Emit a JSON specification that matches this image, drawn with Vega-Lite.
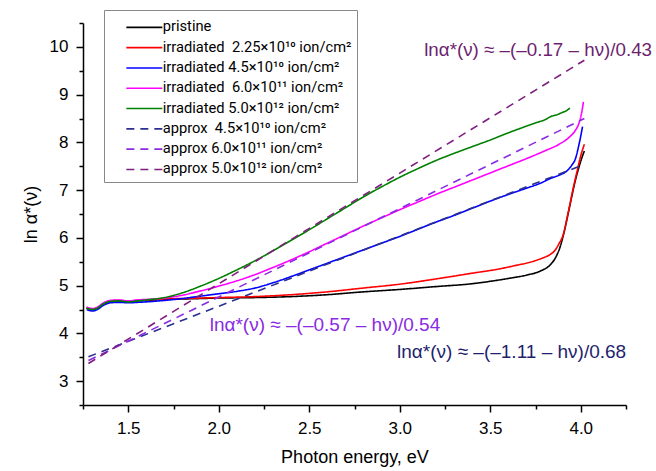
{
  "$schema": "https://vega.github.io/schema/vega-lite/v6.json",
  "width": 543,
  "height": 382,
  "autosize": {"type": "none"},
  "padding": {"left": 83, "top": 23, "right": 30, "bottom": 66},
  "config": {"view": {"stroke": null}, "font": "Liberation Sans", "text": {"font": "Liberation Sans"}},
  "resolve": {"axis": {"y": "independent"}},
  "datasets": {
    "curves": [
      {"s": "pristine", "x": 1.27, "y": 4.53}, {"s": "pristine", "x": 1.30, "y": 4.50}, {"s": "pristine", "x": 1.33, "y": 4.53}, {"s": "pristine", "x": 1.36, "y": 4.61}, {"s": "pristine", "x": 1.40, "y": 4.67}, {"s": "pristine", "x": 1.45, "y": 4.68}, {"s": "pristine", "x": 1.50, "y": 4.66}, {"s": "pristine", "x": 1.55, "y": 4.68}, {"s": "pristine", "x": 1.60, "y": 4.69}, {"s": "pristine", "x": 1.70, "y": 4.71}, {"s": "pristine", "x": 1.80, "y": 4.72}, {"s": "pristine", "x": 1.90, "y": 4.73}, {"s": "pristine", "x": 2.00, "y": 4.74}, {"s": "pristine", "x": 2.20, "y": 4.75}, {"s": "pristine", "x": 2.40, "y": 4.77}, {"s": "pristine", "x": 2.60, "y": 4.81}, {"s": "pristine", "x": 2.80, "y": 4.87}, {"s": "pristine", "x": 3.00, "y": 4.92}, {"s": "pristine", "x": 3.20, "y": 4.98}, {"s": "pristine", "x": 3.40, "y": 5.04}, {"s": "pristine", "x": 3.50, "y": 5.09}, {"s": "pristine", "x": 3.60, "y": 5.15}, {"s": "pristine", "x": 3.70, "y": 5.22}, {"s": "pristine", "x": 3.78, "y": 5.31}, {"s": "pristine", "x": 3.83, "y": 5.43}, {"s": "pristine", "x": 3.86, "y": 5.58}, {"s": "pristine", "x": 3.885, "y": 5.80}, {"s": "pristine", "x": 3.91, "y": 6.15}, {"s": "pristine", "x": 3.93, "y": 6.50}, {"s": "pristine", "x": 3.95, "y": 6.86}, {"s": "pristine", "x": 3.97, "y": 7.20}, {"s": "pristine", "x": 3.99, "y": 7.48}, {"s": "pristine", "x": 4.01, "y": 7.72}, {"s": "pristine", "x": 4.02, "y": 7.82},

      {"s": "irradiated\u00a0 2.25×10¹⁰ ion/cm²", "x": 1.27, "y": 4.54}, {"s": "irradiated\u00a0 2.25×10¹⁰ ion/cm²", "x": 1.30, "y": 4.51}, {"s": "irradiated\u00a0 2.25×10¹⁰ ion/cm²", "x": 1.33, "y": 4.54}, {"s": "irradiated\u00a0 2.25×10¹⁰ ion/cm²", "x": 1.36, "y": 4.62}, {"s": "irradiated\u00a0 2.25×10¹⁰ ion/cm²", "x": 1.40, "y": 4.68}, {"s": "irradiated\u00a0 2.25×10¹⁰ ion/cm²", "x": 1.45, "y": 4.69}, {"s": "irradiated\u00a0 2.25×10¹⁰ ion/cm²", "x": 1.50, "y": 4.67}, {"s": "irradiated\u00a0 2.25×10¹⁰ ion/cm²", "x": 1.55, "y": 4.69}, {"s": "irradiated\u00a0 2.25×10¹⁰ ion/cm²", "x": 1.60, "y": 4.70}, {"s": "irradiated\u00a0 2.25×10¹⁰ ion/cm²", "x": 1.70, "y": 4.72}, {"s": "irradiated\u00a0 2.25×10¹⁰ ion/cm²", "x": 1.80, "y": 4.73}, {"s": "irradiated\u00a0 2.25×10¹⁰ ion/cm²", "x": 1.90, "y": 4.74}, {"s": "irradiated\u00a0 2.25×10¹⁰ ion/cm²", "x": 2.00, "y": 4.75}, {"s": "irradiated\u00a0 2.25×10¹⁰ ion/cm²", "x": 2.20, "y": 4.77}, {"s": "irradiated\u00a0 2.25×10¹⁰ ion/cm²", "x": 2.40, "y": 4.81}, {"s": "irradiated\u00a0 2.25×10¹⁰ ion/cm²", "x": 2.60, "y": 4.87}, {"s": "irradiated\u00a0 2.25×10¹⁰ ion/cm²", "x": 2.80, "y": 4.95}, {"s": "irradiated\u00a0 2.25×10¹⁰ ion/cm²", "x": 3.00, "y": 5.03}, {"s": "irradiated\u00a0 2.25×10¹⁰ ion/cm²", "x": 3.20, "y": 5.14}, {"s": "irradiated\u00a0 2.25×10¹⁰ ion/cm²", "x": 3.40, "y": 5.26}, {"s": "irradiated\u00a0 2.25×10¹⁰ ion/cm²", "x": 3.55, "y": 5.35}, {"s": "irradiated\u00a0 2.25×10¹⁰ ion/cm²", "x": 3.65, "y": 5.43}, {"s": "irradiated\u00a0 2.25×10¹⁰ ion/cm²", "x": 3.72, "y": 5.49}, {"s": "irradiated\u00a0 2.25×10¹⁰ ion/cm²", "x": 3.79, "y": 5.58}, {"s": "irradiated\u00a0 2.25×10¹⁰ ion/cm²", "x": 3.83, "y": 5.65}, {"s": "irradiated\u00a0 2.25×10¹⁰ ion/cm²", "x": 3.86, "y": 5.75}, {"s": "irradiated\u00a0 2.25×10¹⁰ ion/cm²", "x": 3.88, "y": 5.88}, {"s": "irradiated\u00a0 2.25×10¹⁰ ion/cm²", "x": 3.90, "y": 6.03}, {"s": "irradiated\u00a0 2.25×10¹⁰ ion/cm²", "x": 3.93, "y": 6.52}, {"s": "irradiated\u00a0 2.25×10¹⁰ ion/cm²", "x": 3.96, "y": 7.07}, {"s": "irradiated\u00a0 2.25×10¹⁰ ion/cm²", "x": 3.98, "y": 7.40}, {"s": "irradiated\u00a0 2.25×10¹⁰ ion/cm²", "x": 4.00, "y": 7.72}, {"s": "irradiated\u00a0 2.25×10¹⁰ ion/cm²", "x": 4.02, "y": 7.96},

      {"s": "irradiated 4.5×10¹⁰ ion/cm²", "x": 1.27, "y": 4.50}, {"s": "irradiated 4.5×10¹⁰ ion/cm²", "x": 1.30, "y": 4.47}, {"s": "irradiated 4.5×10¹⁰ ion/cm²", "x": 1.33, "y": 4.50}, {"s": "irradiated 4.5×10¹⁰ ion/cm²", "x": 1.36, "y": 4.58}, {"s": "irradiated 4.5×10¹⁰ ion/cm²", "x": 1.40, "y": 4.64}, {"s": "irradiated 4.5×10¹⁰ ion/cm²", "x": 1.45, "y": 4.65}, {"s": "irradiated 4.5×10¹⁰ ion/cm²", "x": 1.50, "y": 4.64}, {"s": "irradiated 4.5×10¹⁰ ion/cm²", "x": 1.55, "y": 4.65}, {"s": "irradiated 4.5×10¹⁰ ion/cm²", "x": 1.60, "y": 4.66}, {"s": "irradiated 4.5×10¹⁰ ion/cm²", "x": 1.70, "y": 4.69}, {"s": "irradiated 4.5×10¹⁰ ion/cm²", "x": 1.80, "y": 4.73}, {"s": "irradiated 4.5×10¹⁰ ion/cm²", "x": 1.90, "y": 4.78}, {"s": "irradiated 4.5×10¹⁰ ion/cm²", "x": 2.00, "y": 4.83}, {"s": "irradiated 4.5×10¹⁰ ion/cm²", "x": 2.10, "y": 4.88}, {"s": "irradiated 4.5×10¹⁰ ion/cm²", "x": 2.20, "y": 4.95}, {"s": "irradiated 4.5×10¹⁰ ion/cm²", "x": 2.30, "y": 5.06}, {"s": "irradiated 4.5×10¹⁰ ion/cm²", "x": 2.40, "y": 5.19}, {"s": "irradiated 4.5×10¹⁰ ion/cm²", "x": 2.50, "y": 5.33}, {"s": "irradiated 4.5×10¹⁰ ion/cm²", "x": 2.60, "y": 5.47}, {"s": "irradiated 4.5×10¹⁰ ion/cm²", "x": 2.70, "y": 5.61}, {"s": "irradiated 4.5×10¹⁰ ion/cm²", "x": 2.80, "y": 5.75}, {"s": "irradiated 4.5×10¹⁰ ion/cm²", "x": 2.90, "y": 5.89}, {"s": "irradiated 4.5×10¹⁰ ion/cm²", "x": 3.00, "y": 6.03}, {"s": "irradiated 4.5×10¹⁰ ion/cm²", "x": 3.10, "y": 6.18}, {"s": "irradiated 4.5×10¹⁰ ion/cm²", "x": 3.20, "y": 6.33}, {"s": "irradiated 4.5×10¹⁰ ion/cm²", "x": 3.30, "y": 6.47}, {"s": "irradiated 4.5×10¹⁰ ion/cm²", "x": 3.40, "y": 6.62}, {"s": "irradiated 4.5×10¹⁰ ion/cm²", "x": 3.50, "y": 6.77}, {"s": "irradiated 4.5×10¹⁰ ion/cm²", "x": 3.60, "y": 6.91}, {"s": "irradiated 4.5×10¹⁰ ion/cm²", "x": 3.70, "y": 7.04}, {"s": "irradiated 4.5×10¹⁰ ion/cm²", "x": 3.78, "y": 7.15}, {"s": "irradiated 4.5×10¹⁰ ion/cm²", "x": 3.83, "y": 7.24}, {"s": "irradiated 4.5×10¹⁰ ion/cm²", "x": 3.885, "y": 7.32}, {"s": "irradiated 4.5×10¹⁰ ion/cm²", "x": 3.92, "y": 7.39}, {"s": "irradiated 4.5×10¹⁰ ion/cm²", "x": 3.95, "y": 7.52}, {"s": "irradiated 4.5×10¹⁰ ion/cm²", "x": 3.97, "y": 7.65}, {"s": "irradiated 4.5×10¹⁰ ion/cm²", "x": 3.99, "y": 7.95}, {"s": "irradiated 4.5×10¹⁰ ion/cm²", "x": 4.01, "y": 8.33},

      {"s": "irradiated\u00a0 6.0×10¹¹ ion/cm²", "x": 1.27, "y": 4.55}, {"s": "irradiated\u00a0 6.0×10¹¹ ion/cm²", "x": 1.30, "y": 4.52}, {"s": "irradiated\u00a0 6.0×10¹¹ ion/cm²", "x": 1.33, "y": 4.55}, {"s": "irradiated\u00a0 6.0×10¹¹ ion/cm²", "x": 1.36, "y": 4.63}, {"s": "irradiated\u00a0 6.0×10¹¹ ion/cm²", "x": 1.40, "y": 4.69}, {"s": "irradiated\u00a0 6.0×10¹¹ ion/cm²", "x": 1.45, "y": 4.70}, {"s": "irradiated\u00a0 6.0×10¹¹ ion/cm²", "x": 1.50, "y": 4.68}, {"s": "irradiated\u00a0 6.0×10¹¹ ion/cm²", "x": 1.55, "y": 4.70}, {"s": "irradiated\u00a0 6.0×10¹¹ ion/cm²", "x": 1.60, "y": 4.71}, {"s": "irradiated\u00a0 6.0×10¹¹ ion/cm²", "x": 1.70, "y": 4.74}, {"s": "irradiated\u00a0 6.0×10¹¹ ion/cm²", "x": 1.80, "y": 4.80}, {"s": "irradiated\u00a0 6.0×10¹¹ ion/cm²", "x": 1.90, "y": 4.89}, {"s": "irradiated\u00a0 6.0×10¹¹ ion/cm²", "x": 2.00, "y": 4.99}, {"s": "irradiated\u00a0 6.0×10¹¹ ion/cm²", "x": 2.10, "y": 5.10}, {"s": "irradiated\u00a0 6.0×10¹¹ ion/cm²", "x": 2.20, "y": 5.23}, {"s": "irradiated\u00a0 6.0×10¹¹ ion/cm²", "x": 2.30, "y": 5.38}, {"s": "irradiated\u00a0 6.0×10¹¹ ion/cm²", "x": 2.40, "y": 5.54}, {"s": "irradiated\u00a0 6.0×10¹¹ ion/cm²", "x": 2.50, "y": 5.71}, {"s": "irradiated\u00a0 6.0×10¹¹ ion/cm²", "x": 2.60, "y": 5.89}, {"s": "irradiated\u00a0 6.0×10¹¹ ion/cm²", "x": 2.70, "y": 6.07}, {"s": "irradiated\u00a0 6.0×10¹¹ ion/cm²", "x": 2.80, "y": 6.25}, {"s": "irradiated\u00a0 6.0×10¹¹ ion/cm²", "x": 2.90, "y": 6.42}, {"s": "irradiated\u00a0 6.0×10¹¹ ion/cm²", "x": 3.00, "y": 6.59}, {"s": "irradiated\u00a0 6.0×10¹¹ ion/cm²", "x": 3.10, "y": 6.75}, {"s": "irradiated\u00a0 6.0×10¹¹ ion/cm²", "x": 3.20, "y": 6.91}, {"s": "irradiated\u00a0 6.0×10¹¹ ion/cm²", "x": 3.30, "y": 7.06}, {"s": "irradiated\u00a0 6.0×10¹¹ ion/cm²", "x": 3.40, "y": 7.21}, {"s": "irradiated\u00a0 6.0×10¹¹ ion/cm²", "x": 3.50, "y": 7.36}, {"s": "irradiated\u00a0 6.0×10¹¹ ion/cm²", "x": 3.60, "y": 7.51}, {"s": "irradiated\u00a0 6.0×10¹¹ ion/cm²", "x": 3.70, "y": 7.66}, {"s": "irradiated\u00a0 6.0×10¹¹ ion/cm²", "x": 3.80, "y": 7.82}, {"s": "irradiated\u00a0 6.0×10¹¹ ion/cm²", "x": 3.88, "y": 7.96}, {"s": "irradiated\u00a0 6.0×10¹¹ ion/cm²", "x": 3.94, "y": 8.12}, {"s": "irradiated\u00a0 6.0×10¹¹ ion/cm²", "x": 3.97, "y": 8.25}, {"s": "irradiated\u00a0 6.0×10¹¹ ion/cm²", "x": 3.99, "y": 8.40}, {"s": "irradiated\u00a0 6.0×10¹¹ ion/cm²", "x": 4.005, "y": 8.62}, {"s": "irradiated\u00a0 6.0×10¹¹ ion/cm²", "x": 4.015, "y": 8.85},

      {"s": "irradiated 5.0×10¹² ion/cm²", "x": 1.27, "y": 4.53}, {"s": "irradiated 5.0×10¹² ion/cm²", "x": 1.30, "y": 4.50}, {"s": "irradiated 5.0×10¹² ion/cm²", "x": 1.33, "y": 4.53}, {"s": "irradiated 5.0×10¹² ion/cm²", "x": 1.36, "y": 4.61}, {"s": "irradiated 5.0×10¹² ion/cm²", "x": 1.40, "y": 4.67}, {"s": "irradiated 5.0×10¹² ion/cm²", "x": 1.45, "y": 4.68}, {"s": "irradiated 5.0×10¹² ion/cm²", "x": 1.50, "y": 4.66}, {"s": "irradiated 5.0×10¹² ion/cm²", "x": 1.55, "y": 4.68}, {"s": "irradiated 5.0×10¹² ion/cm²", "x": 1.60, "y": 4.70}, {"s": "irradiated 5.0×10¹² ion/cm²", "x": 1.70, "y": 4.75}, {"s": "irradiated 5.0×10¹² ion/cm²", "x": 1.80, "y": 4.85}, {"s": "irradiated 5.0×10¹² ion/cm²", "x": 1.90, "y": 4.99}, {"s": "irradiated 5.0×10¹² ion/cm²", "x": 2.00, "y": 5.15}, {"s": "irradiated 5.0×10¹² ion/cm²", "x": 2.10, "y": 5.33}, {"s": "irradiated 5.0×10¹² ion/cm²", "x": 2.20, "y": 5.52}, {"s": "irradiated 5.0×10¹² ion/cm²", "x": 2.30, "y": 5.73}, {"s": "irradiated 5.0×10¹² ion/cm²", "x": 2.40, "y": 5.95}, {"s": "irradiated 5.0×10¹² ion/cm²", "x": 2.50, "y": 6.17}, {"s": "irradiated 5.0×10¹² ion/cm²", "x": 2.60, "y": 6.40}, {"s": "irradiated 5.0×10¹² ion/cm²", "x": 2.70, "y": 6.63}, {"s": "irradiated 5.0×10¹² ion/cm²", "x": 2.80, "y": 6.86}, {"s": "irradiated 5.0×10¹² ion/cm²", "x": 2.90, "y": 7.07}, {"s": "irradiated 5.0×10¹² ion/cm²", "x": 3.00, "y": 7.27}, {"s": "irradiated 5.0×10¹² ion/cm²", "x": 3.10, "y": 7.45}, {"s": "irradiated 5.0×10¹² ion/cm²", "x": 3.20, "y": 7.62}, {"s": "irradiated 5.0×10¹² ion/cm²", "x": 3.30, "y": 7.77}, {"s": "irradiated 5.0×10¹² ion/cm²", "x": 3.40, "y": 7.91}, {"s": "irradiated 5.0×10¹² ion/cm²", "x": 3.50, "y": 8.05}, {"s": "irradiated 5.0×10¹² ion/cm²", "x": 3.60, "y": 8.20}, {"s": "irradiated 5.0×10¹² ion/cm²", "x": 3.70, "y": 8.34}, {"s": "irradiated 5.0×10¹² ion/cm²", "x": 3.76, "y": 8.42}, {"s": "irradiated 5.0×10¹² ion/cm²", "x": 3.80, "y": 8.47}, {"s": "irradiated 5.0×10¹² ion/cm²", "x": 3.84, "y": 8.55}, {"s": "irradiated 5.0×10¹² ion/cm²", "x": 3.87, "y": 8.58}, {"s": "irradiated 5.0×10¹² ion/cm²", "x": 3.90, "y": 8.63}, {"s": "irradiated 5.0×10¹² ion/cm²", "x": 3.92, "y": 8.66}, {"s": "irradiated 5.0×10¹² ion/cm²", "x": 3.94, "y": 8.72},

      {"s": "approx\u00a0 4.5×10¹⁰ ion/cm²", "x": 1.28, "y": 3.51}, {"s": "approx\u00a0 4.5×10¹⁰ ion/cm²", "x": 4.02, "y": 7.54},
      {"s": "approx 6.0×10¹¹ ion/cm²", "x": 1.28, "y": 3.43}, {"s": "approx 6.0×10¹¹ ion/cm²", "x": 4.02, "y": 8.50},
      {"s": "approx 5.0×10¹² ion/cm²", "x": 1.28, "y": 3.37}, {"s": "approx 5.0×10¹² ion/cm²", "x": 4.02, "y": 9.72}
    ],
    "notes": [
      {"k": "a", "x": 3.135, "y": 9.93, "t": "lnα*(ν) ≈ –(–0.17 – hν)/0.43"},
      {"k": "b", "x": 1.95, "y": 4.18, "t": "lnα*(ν) ≈ –(–0.57 – hν)/0.54"},
      {"k": "c", "x": 2.985, "y": 3.61, "t": "lnα*(ν) ≈ –(–1.11 – hν)/0.68"}
    ]
  },
  "layer": [
    {
      "data": {"name": "curves"},
      "mark": {"type": "line", "strokeWidth": 1.6, "interpolate": "monotone"},
      "encoding": {
        "x": {
          "field": "x", "type": "quantitative",
          "scale": {"domain": [1.25, 4.25], "nice": false, "zero": false},
          "axis": {
            "title": "Photon energy, eV", "titleFontSize": 18, "titleFontWeight": "normal", "titleColor": "#000", "titlePadding": 12, "titleFont": "Liberation Sans",
            "values": [1.25, 1.5, 1.75, 2, 2.25, 2.5, 2.75, 3, 3.25, 3.5, 3.75, 4, 4.25],
            "labelExpr": "datum.value % 0.5 == 0 ? format(datum.value, '.1f') : ''",
            "labelOverlap": false,
            "labelFontSize": 17, "labelColor": "#000", "labelPadding": 8, "labelFont": "Liberation Sans",
            "tickSize": {"condition": {"test": "datum.value % 0.5 == 0", "value": 7}, "value": 4},
            "tickColor": "#000", "tickWidth": 1.5, "domainColor": "#000", "domainWidth": 1.5, "grid": false
          }
        },
        "y": {
          "field": "y", "type": "quantitative",
          "scale": {"domain": [2.5, 10.5], "nice": false, "zero": false},
          "axis": {
            "orient": "left",
            "title": "ln α*(ν)", "titleFontSize": 18, "titleFontWeight": "normal", "titleColor": "#000", "titlePadding": 9, "titleFont": "Liberation Sans",
            "values": [3, 4, 5, 6, 7, 8, 9, 10],
            "format": "d",
            "labelOverlap": false,
            "labelFontSize": 17, "labelColor": "#000", "labelPadding": 8, "labelFont": "Liberation Sans",
            "tickSize": 7,
            "tickColor": "#000", "tickWidth": 1.5, "domainColor": "#000", "domainWidth": 1.5, "grid": false
          }
        },
        "color": {
          "field": "s", "type": "nominal",
          "scale": {
            "domain": ["pristine", "irradiated\u00a0 2.25×10¹⁰ ion/cm²", "irradiated 4.5×10¹⁰ ion/cm²", "irradiated\u00a0 6.0×10¹¹ ion/cm²", "irradiated 5.0×10¹² ion/cm²", "approx\u00a0 4.5×10¹⁰ ion/cm²", "approx 6.0×10¹¹ ion/cm²", "approx 5.0×10¹² ion/cm²"],
            "range": ["#000000", "#ff0000", "#0000ff", "#ff00ff", "#008000", "#2b2f8f", "#8a2be2", "#7f1f7f"]
          },
          "legend": {
            "title": "\u00a0", "titleFontSize": 5, "titlePadding": 0, "orient": "none", "legendX": 21, "legendY": -13,
            "padding": 5, "strokeColor": "#888", "fillColor": "#fff",
            "labelFontSize": 14.7, "labelFont": "Roboto", "labelColor": "#000", "labelLimit": 400,
            "symbolType": "M-3,0H3", "symbolSize": 144, "symbolStrokeWidth": 1.6, "rowPadding": 4.3, "labelOffset": 11, "symbolOffset": 28
          }
        },
        "strokeDash": {
          "field": "s", "type": "nominal",
          "scale": {
            "domain": ["pristine", "irradiated\u00a0 2.25×10¹⁰ ion/cm²", "irradiated 4.5×10¹⁰ ion/cm²", "irradiated\u00a0 6.0×10¹¹ ion/cm²", "irradiated 5.0×10¹² ion/cm²", "approx\u00a0 4.5×10¹⁰ ion/cm²", "approx 6.0×10¹¹ ion/cm²", "approx 5.0×10¹² ion/cm²"],
            "range": [[1, 0], [1, 0], [1, 0], [1, 0], [1, 0], [8, 6], [8, 6], [8, 6]]
          },
          "legend": null
        }
      }
    },
    {
      "data": {"name": "notes"},
      "transform": [{"filter": "datum.k == 'a'"}],
      "mark": {"type": "text", "align": "left", "baseline": "middle", "fontSize": 18.8, "color": "#6e1f70"},
      "encoding": {"x": {"field": "x", "type": "quantitative"}, "y": {"field": "y", "type": "quantitative", "axis": null}, "text": {"field": "t"}}
    },
    {
      "data": {"name": "notes"},
      "transform": [{"filter": "datum.k == 'b'"}],
      "mark": {"type": "text", "align": "left", "baseline": "middle", "fontSize": 19, "color": "#8a2be2"},
      "encoding": {"x": {"field": "x", "type": "quantitative"}, "y": {"field": "y", "type": "quantitative", "axis": null}, "text": {"field": "t"}}
    },
    {
      "data": {"name": "notes"},
      "transform": [{"filter": "datum.k == 'c'"}],
      "mark": {"type": "text", "align": "left", "baseline": "middle", "fontSize": 19, "color": "#1f1f6e"},
      "encoding": {
        "x": {"field": "x", "type": "quantitative"},
        "y": {"field": "y", "type": "quantitative", "axis": {"orient": "left", "values": [2.5, 3.5, 4.5, 5.5, 6.5, 7.5, 8.5, 9.5, 10.5], "labels": false, "domain": false, "title": null, "grid": false, "tickSize": 4, "tickColor": "#000", "tickWidth": 1.5}},
        "text": {"field": "t"}
      }
    }
  ]
}
